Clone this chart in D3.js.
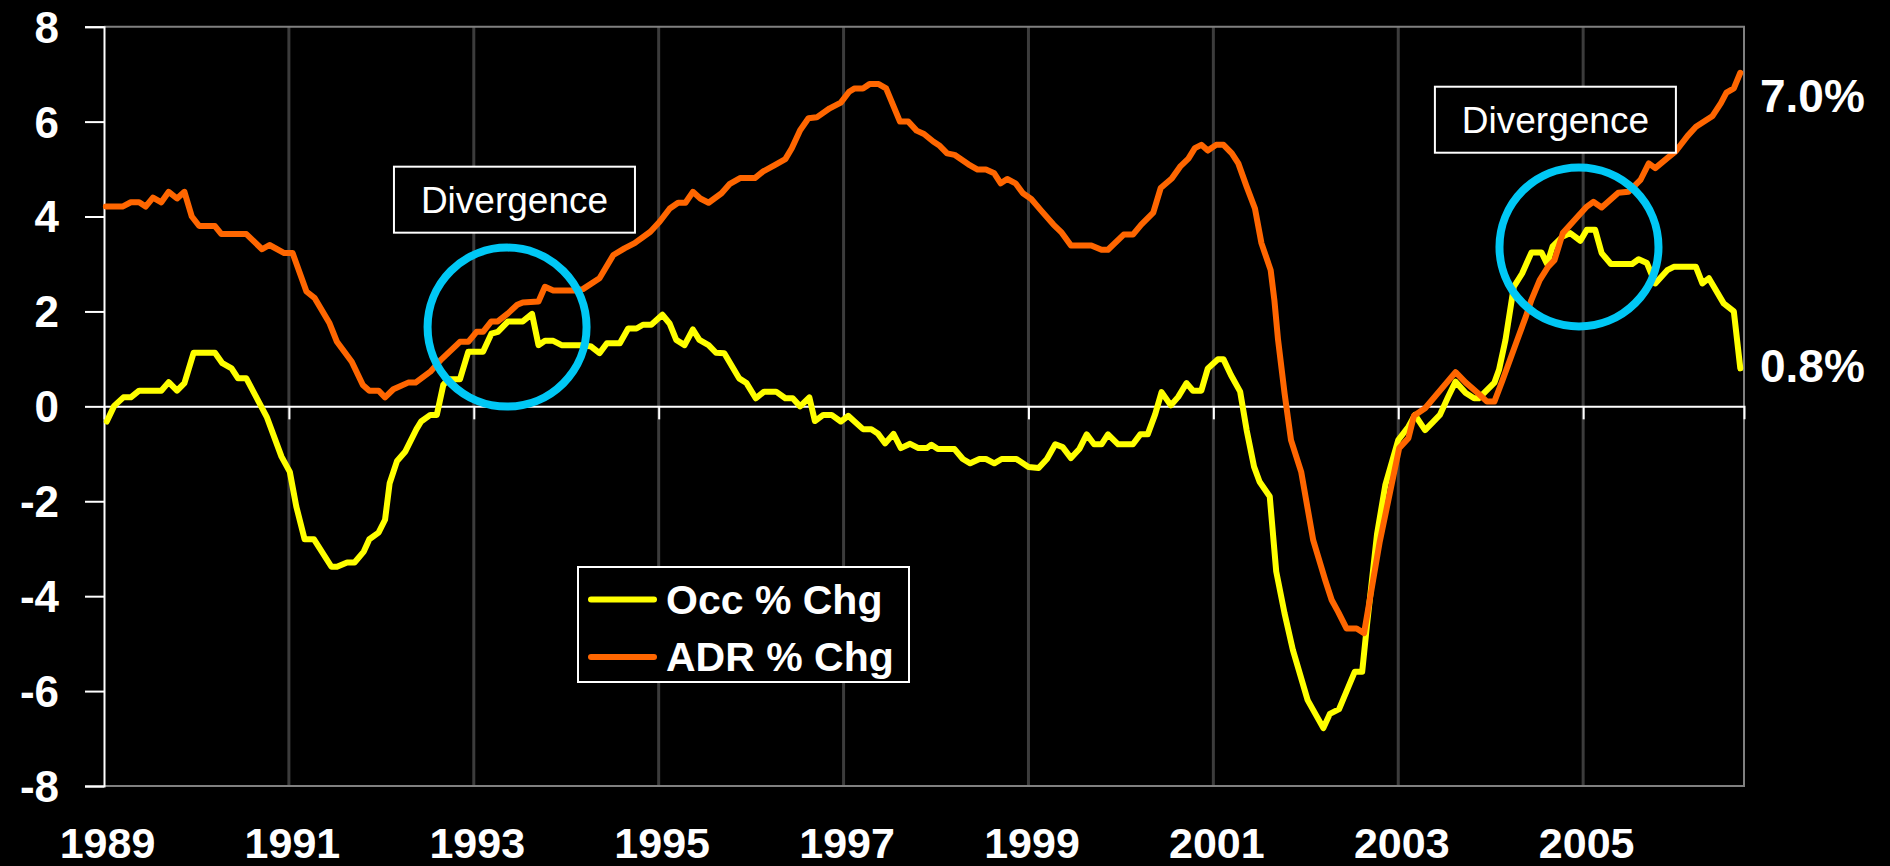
<!DOCTYPE html>
<html>
<head>
<meta charset="utf-8">
<script src="https://cdn.jsdelivr.net/npm/d3@7"></script>
<style>
  html, body { margin: 0; padding: 0; background: #000; }
  svg { display: block; }
</style>
</head>
<body>
<svg id="chart" width="1890" height="866"></svg>
<script>
// ---------- DATA ----------
const seriesNames = ["Occ % Chg", "ADR % Chg"];
const seriesColors = ["#FFFF00", "#FF6600"];

const occDates = [1989.03,1989.11,1989.21,1989.29,1989.38,1989.62,1989.70,1989.79,1989.87,1989.97,
  1990.20,1990.28,1990.38,1990.45,1990.54,1990.70,1990.76,1990.92,1991.01,1991.08,1991.17,1991.27,
  1991.46,1991.52,1991.63,1991.71,1991.81,1991.87,1991.97,1992.04,1992.09,1992.17,1992.26,1992.38,
  1992.43,1992.53,1992.60,1992.67,1992.72,1992.85,1992.94,1993.10,1993.19,1993.26,1993.37,1993.53,
  1993.63,1993.70,1993.77,1993.86,1993.95,1994.18,1994.27,1994.36,1994.44,1994.58,1994.67,1994.76,
  1994.83,1994.92,1995.04,1995.12,1995.19,1995.28,1995.37,1995.44,1995.54,1995.62,1995.71,1995.87,
  1995.95,1996.05,1996.14,1996.27,1996.37,1996.45,1996.53,1996.63,1996.69,1996.78,1996.87,1996.97,
  1997.05,1997.21,1997.30,1997.37,1997.45,1997.54,1997.62,1997.72,1997.81,1997.90,1997.95,1998.02,
  1998.20,1998.29,1998.37,1998.47,1998.54,1998.63,1998.71,1998.87,1999.00,1999.11,1999.20,1999.29,
  1999.37,1999.46,1999.55,1999.63,1999.71,1999.79,1999.86,1999.97,2000.13,2000.21,2000.29,2000.37,
  2000.44,2000.54,2000.62,2000.71,2000.78,2000.87,2000.94,2001.05,2001.11,2001.19,2001.29,2001.36,
  2001.44,2001.50,2001.61,2001.68,2001.77,2001.86,2002.02,2002.19,2002.26,2002.36,2002.53,2002.61,
  2002.66,2002.77,2002.86,2003.00,2003.11,2003.18,2003.29,2003.38,2003.45,2003.54,2003.62,2003.73,
  2003.82,2003.87,2004.04,2004.09,2004.16,2004.25,2004.34,2004.44,2004.55,2004.61,2004.67,2004.78,
  2004.86,2004.97,2005.04,2005.13,2005.20,2005.30,2005.53,2005.60,2005.69,2005.78,2005.91,2005.98,
  2006.22,2006.29,2006.36,2006.52,2006.63,2006.70];
const occValues = [-0.32,0.01,0.19,0.19,0.33,0.33,0.51,0.33,0.49,1.13,
  1.13,0.91,0.80,0.59,0.59,0.00,-0.22,-1.06,-1.38,-2.11,-2.80,-2.80,
  -3.38,-3.38,-3.29,-3.29,-3.06,-2.80,-2.66,-2.39,-1.62,-1.15,-0.95,-0.48,
  -0.32,-0.18,-0.18,0.45,0.57,0.57,1.15,1.15,1.53,1.57,1.79,1.79,
  1.95,1.29,1.38,1.38,1.29,1.29,1.26,1.12,1.33,1.33,1.64,1.64,
  1.72,1.72,1.93,1.74,1.40,1.29,1.62,1.40,1.29,1.13,1.12,0.59,
  0.49,0.17,0.31,0.31,0.17,0.17,0.00,0.19,-0.31,-0.18,-0.18,-0.32,
  -0.20,-0.48,-0.48,-0.57,-0.78,-0.58,-0.88,-0.79,-0.88,-0.88,-0.81,-0.90,
  -0.90,-1.11,-1.20,-1.11,-1.11,-1.20,-1.11,-1.11,-1.28,-1.30,-1.11,-0.80,
  -0.86,-1.09,-0.90,-0.59,-0.80,-0.80,-0.59,-0.80,-0.80,-0.59,-0.59,-0.17,
  0.30,0.02,0.20,0.49,0.33,0.33,0.80,0.99,0.99,0.66,0.31,-0.50,
  -1.27,-1.59,-1.90,-3.48,-4.36,-5.13,-6.19,-6.78,-6.48,-6.38,-5.59,-5.59,
  -4.64,-2.70,-1.66,-0.71,-0.43,-0.18,-0.50,-0.32,-0.18,0.20,0.52,0.28,
  0.17,0.17,0.50,0.77,1.40,2.52,2.80,3.24,3.24,3.00,3.37,3.58,
  3.65,3.49,3.72,3.72,3.23,3.00,3.00,3.10,3.02,2.59,2.87,2.94,
  2.94,2.59,2.70,2.17,2.00,0.80];

const adrDates = [1989.02,1989.20,1989.29,1989.38,1989.45,1989.53,1989.62,1989.70,1989.79,1989.87,
  1989.95,1990.03,1990.20,1990.27,1990.54,1990.71,1990.79,1990.95,1991.04,1991.19,1991.28,1991.44,
  1991.52,1991.68,1991.80,1991.87,1991.97,1992.04,1992.13,1992.29,1992.37,1992.53,1992.65,1992.71,
  1992.85,1992.94,1993.03,1993.10,1993.19,1993.26,1993.37,1993.47,1993.53,1993.70,1993.77,1993.86,
  1994.09,1994.18,1994.36,1994.51,1994.63,1994.74,1994.91,1995.01,1995.12,1995.21,1995.29,1995.37,
  1995.45,1995.54,1995.68,1995.77,1995.88,1996.04,1996.13,1996.26,1996.37,1996.44,1996.53,1996.62,
  1996.71,1996.85,1996.97,1997.06,1997.12,1997.21,1997.28,1997.38,1997.46,1997.61,1997.70,1997.79,
  1997.87,1997.97,1998.04,1998.12,1998.20,1998.35,1998.45,1998.54,1998.63,1998.70,1998.77,1998.86,
  1998.94,1999.03,1999.14,1999.27,1999.36,1999.46,1999.68,1999.79,1999.86,2000.03,2000.13,2000.22,
  2000.35,2000.43,2000.55,2000.64,2000.73,2000.80,2000.87,2000.94,2001.03,2001.11,2001.20,2001.27,
  2001.36,2001.45,2001.52,2001.62,2001.66,2001.70,2001.77,2001.84,2001.95,2002.08,2002.21,2002.28,
  2002.35,2002.44,2002.55,2002.63,2002.71,2002.80,2003.01,2003.11,2003.17,2003.29,2003.62,2003.73,
  2003.86,2003.96,2004.04,2004.13,2004.28,2004.38,2004.44,2004.53,2004.62,2004.69,2004.78,2004.91,
  2005.04,2005.11,2005.20,2005.38,2005.49,2005.62,2005.71,2005.78,2005.91,2006.00,2006.13,2006.22,
  2006.40,2006.49,2006.55,2006.63,2006.70];
const adrValues = [4.21,4.21,4.30,4.30,4.21,4.40,4.30,4.52,4.38,4.52,
  4.00,3.80,3.80,3.63,3.63,3.31,3.40,3.23,3.23,2.42,2.28,1.75,
  1.36,0.94,0.45,0.33,0.33,0.19,0.36,0.50,0.50,0.73,0.99,1.10,
  1.36,1.36,1.57,1.57,1.79,1.79,1.96,2.14,2.19,2.21,2.52,2.44,
  2.44,2.47,2.70,3.19,3.33,3.44,3.68,3.89,4.17,4.29,4.29,4.52,
  4.38,4.29,4.49,4.69,4.81,4.81,4.95,5.09,5.21,5.44,5.82,6.07,
  6.09,6.28,6.40,6.63,6.70,6.70,6.79,6.79,6.70,6.00,6.00,5.81,
  5.74,5.58,5.49,5.33,5.30,5.10,4.99,4.99,4.91,4.70,4.79,4.70,
  4.49,4.37,4.12,3.83,3.66,3.39,3.39,3.30,3.30,3.62,3.62,3.83,
  4.08,4.60,4.80,5.05,5.22,5.44,5.51,5.39,5.51,5.51,5.33,5.12,
  4.63,4.17,3.44,2.87,2.24,1.40,0.28,-0.71,-1.38,-2.82,-3.66,-4.08,
  -4.33,-4.68,-4.68,-4.78,-3.87,-2.85,-0.88,-0.67,-0.20,-0.04,0.72,0.50,
  0.28,0.10,0.10,0.56,1.36,1.89,2.24,2.66,2.94,3.08,3.65,3.93,
  4.21,4.31,4.19,4.50,4.52,4.77,5.12,5.02,5.23,5.37,5.70,5.89,
  6.12,6.39,6.61,6.70,7.03];

const yTicks = [-8,-6,-4,-2,0,2,4,6,8];
const xTickYears = [1989,1991,1993,1995,1997,1999,2001,2003,2005];
const xDomain = [1989, 2006.74];
const yDomain = [-8, 8];

// Annotations
const endLabels = [{text: "7.0%", value: 6.2}, {text: "0.8%", value: 0.52}];
const divergenceBoxes = [{text: "Divergence", year: 1993.44, value: 4.355},
                         {text: "Divergence", year: 2004.7, value: 6.04}];
const divergenceCircles = [{year: 1993.36, value: 1.67}, {year: 2004.955, value: 3.36}];

// ---------- LAYOUT ----------
const M = {left: 104, right: 1744, top: 26.7, bottom: 786};
const FONT = "'Liberation Sans', Arial, Helvetica, sans-serif";

const svg = d3.select("#chart");
svg.append("rect").attr("width", 1890).attr("height", 866).attr("fill", "#000");

const x = d3.scaleLinear().domain(xDomain).range([M.left, M.right]);
const y = d3.scaleLinear().domain(yDomain).range([M.bottom, M.top]);

// vertical gridlines at odd years
svg.append("g").selectAll("line")
  .data(xTickYears.slice(1))
  .join("line")
  .attr("x1", d => x(d)).attr("x2", d => x(d))
  .attr("y1", M.top).attr("y2", M.bottom)
  .attr("stroke", "#3c3c3c").attr("stroke-width", 3);

// plot frame (top, right, bottom) grey
svg.append("path")
  .attr("d", `M${M.left},${M.top}H${M.right}V${M.bottom}H${M.left}`)
  .attr("fill", "none").attr("stroke", "#808080").attr("stroke-width", 2);

// y axis
const yAxis = svg.append("g")
  .attr("transform", `translate(${M.left},0)`)
  .call(d3.axisLeft(y).tickValues(yTicks).tickSize(19).tickPadding(26).tickFormat(d3.format("d")));
yAxis.select(".domain").attr("stroke", "#fff").attr("stroke-width", 2);
yAxis.selectAll(".tick line").attr("stroke", "#fff").attr("stroke-width", 2);
yAxis.selectAll(".tick text")
  .attr("fill", "#fff").attr("font-family", FONT).attr("font-weight", "bold")
  .attr("font-size", 44).attr("dy", "0.35em")
  .text(d => d < 0 ? "-" + Math.abs(d) : d);

// zero axis with ticks downward
const xAxis0 = svg.append("g")
  .attr("transform", `translate(0,${y(0)})`)
  .call(d3.axisBottom(x).tickValues(xTickYears.slice(1)).tickSize(13).tickFormat(""));
xAxis0.select(".domain").attr("stroke", "#fff").attr("stroke-width", 2);
xAxis0.selectAll(".tick line").attr("stroke", "#fff").attr("stroke-width", 2);

// bottom year labels
const xAxisB = svg.append("g")
  .attr("transform", `translate(0,${M.bottom})`)
  .call(d3.axisBottom(x).tickValues(xTickYears).tickSize(0).tickFormat(d3.format("d")));
xAxisB.select(".domain").remove();
xAxisB.selectAll(".tick text")
  .attr("fill", "#fff").attr("font-family", FONT).attr("font-weight", "bold")
  .attr("font-size", 43).attr("dy", null).attr("y", 72).attr("dx", 3);

// lines
const line = d3.line().x(d => x(d[0])).y(d => y(d[1]));
const occData = d3.zip(occDates, occValues);
const adrData = d3.zip(adrDates, adrValues);
[occData, adrData].forEach((data, i) => {
  svg.append("path").datum(data)
    .attr("d", line)
    .attr("fill", "none")
    .attr("stroke", seriesColors[i])
    .attr("stroke-width", 6)
    .attr("stroke-linejoin", "round")
    .attr("stroke-linecap", "round");
});

// divergence circles
svg.append("g").selectAll("circle")
  .data(divergenceCircles).join("circle")
  .attr("cx", d => x(d.year)).attr("cy", d => y(d.value))
  .attr("r", 79.5)
  .attr("fill", "none").attr("stroke", "#00C8F5").attr("stroke-width", 8);

// divergence boxes
const boxW = 241, boxH = 66;
const bg = svg.append("g").selectAll("g")
  .data(divergenceBoxes).join("g")
  .attr("transform", d => `translate(${x(d.year)},${y(d.value)})`);
bg.append("rect")
  .attr("x", -boxW / 2).attr("y", -boxH / 2).attr("width", boxW).attr("height", boxH)
  .attr("fill", "#000").attr("stroke", "#fff").attr("stroke-width", 2);
bg.append("text")
  .attr("text-anchor", "middle").attr("y", 13)
  .attr("fill", "#fff").attr("font-family", FONT).attr("font-size", 37)
  .text(d => d.text);

// end labels
svg.append("g").selectAll("text")
  .data(endLabels).join("text")
  .attr("x", 1760).attr("y", d => y(d.value))
  .attr("fill", "#fff").attr("font-family", FONT).attr("font-weight", "bold")
  .attr("font-size", 46)
  .text(d => d.text);

// legend
const lg = svg.append("g").attr("transform", "translate(578,567)");
lg.append("rect").attr("width", 331).attr("height", 115)
  .attr("fill", "#000").attr("stroke", "#fff").attr("stroke-width", 2);
seriesNames.forEach((name, i) => {
  const cy = 32.5 + i * 57.5;
  lg.append("line").attr("x1", 13).attr("x2", 76).attr("y1", cy).attr("y2", cy)
    .attr("stroke", seriesColors[i]).attr("stroke-width", 6).attr("stroke-linecap", "round");
  lg.append("text").attr("x", 88).attr("y", cy + 14)
    .attr("fill", "#fff").attr("font-family", FONT).attr("font-weight", "bold")
    .attr("font-size", 41).text(name);
});
</script>
</body>
</html>
